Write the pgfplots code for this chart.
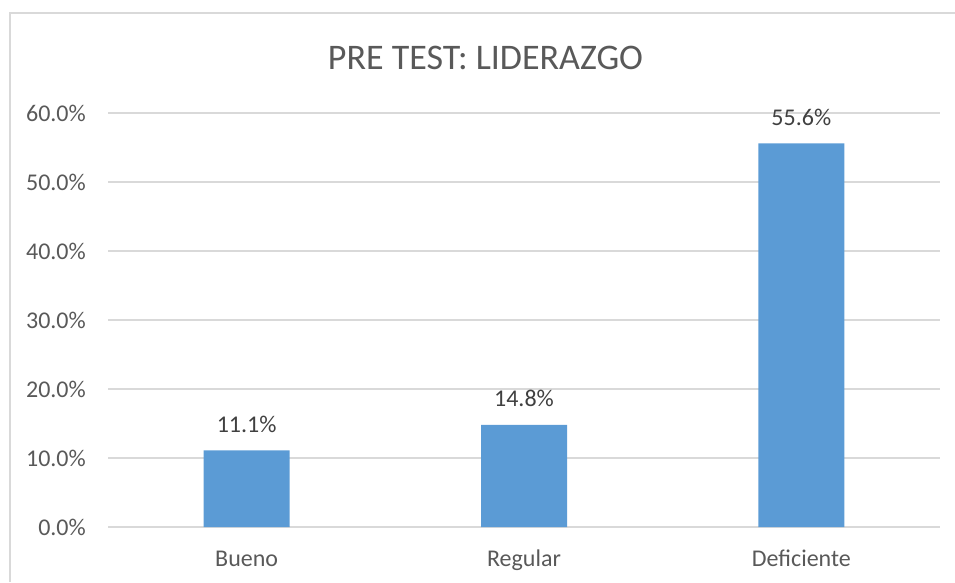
\documentclass[border=0pt]{standalone}
\usepackage{pgfplots}
\pgfplotsset{compat=1.18}
\usepackage{fontspec}
\setmainfont{Carlito}
\definecolor{barblue}{HTML}{5B9BD5}
\definecolor{gridgray}{HTML}{D9D9D9}
\definecolor{txtgray}{HTML}{595959}
\definecolor{lblgray}{HTML}{404040}
\begin{document}
\begin{tikzpicture}[x=1pt,y=1pt]
\useasboundingbox (0,0) rectangle (955,582);
\draw[gridgray, line width=1.5pt] (10,0) -- (10,569) -- (955,569);
\node[anchor=base, text=txtgray, font=\fontsize{36}{40}\selectfont, inner sep=0] at (485.5,512) {PRE TEST: LIDERAZGO};
\begin{axis}[
  at={(108pt,55pt)}, anchor=south west,
  scale only axis, width=832pt, height=414pt,
  ymin=0, ymax=60, xmin=-0.5, xmax=2.5,
  ytick={0,10,20,30,40,50,60},
  xtick=data, xticklabels={Bueno,Regular,Deficiente},
  axis line style={draw=none},
  major tick length=0pt,
  ymajorgrids, grid style={gridgray, line width=1.3pt},
  /pgf/number format/assume math mode=true,
  yticklabel={\pgfmathprintnumber[fixed,fixed zerofill,precision=1]{\tick}\%},
  yticklabel style={anchor=east, inner sep=0pt, xshift=-22pt, text=txtgray, font=\fontsize{24}{28}\selectfont},
  xticklabel style={anchor=base, inner sep=0pt, yshift=-39pt, text=txtgray, font=\fontsize{24}{28}\selectfont},
  ybar, bar width=86pt,
  nodes near coords={\pgfmathprintnumber[fixed,fixed zerofill,precision=1]{\pgfplotspointmeta}\%},
  nodes near coords style={anchor=base, inner sep=0pt, yshift=18pt, text=lblgray, font=\fontsize{24}{28}\selectfont},
]
\addplot[fill=barblue, draw=none, bar shift=0pt] coordinates {(0,11.1) (1,14.8) (2,55.6)};
\end{axis}
\end{tikzpicture}
\end{document}
